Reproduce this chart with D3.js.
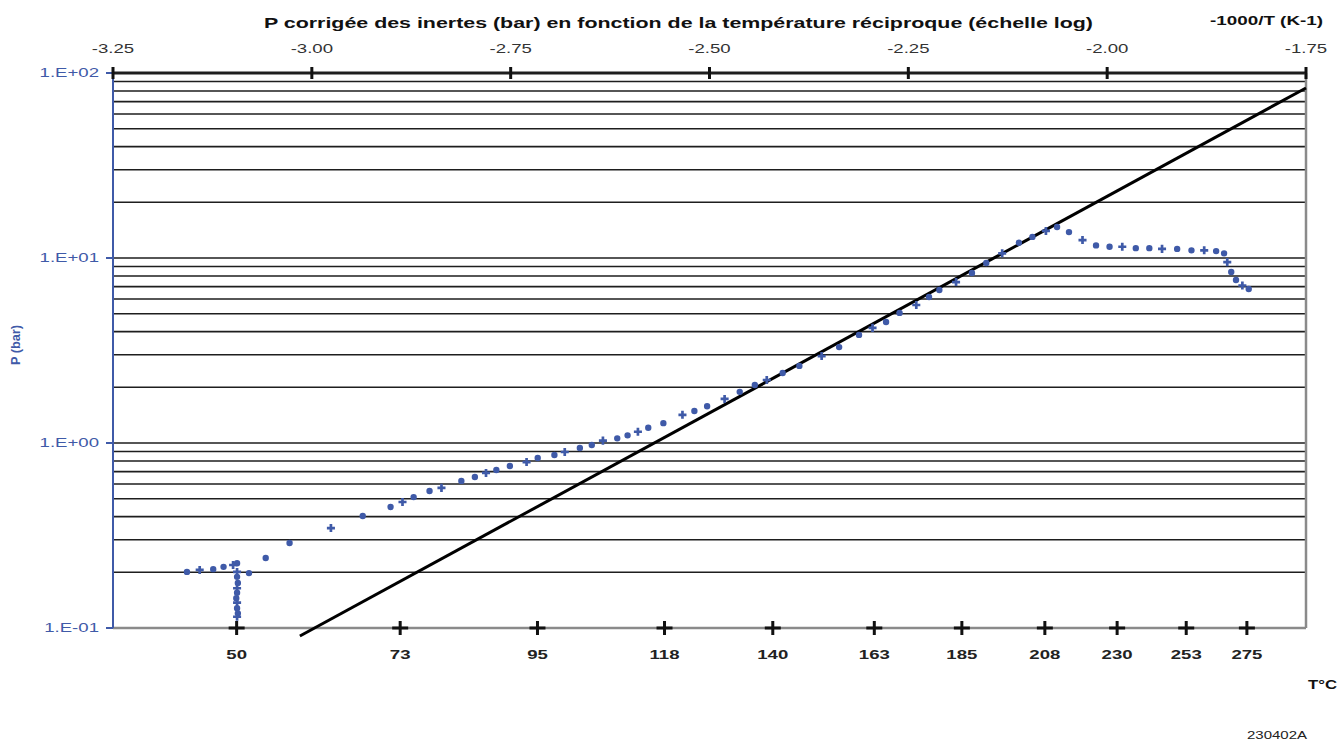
<!DOCTYPE html>
<html>
<head>
<meta charset="utf-8">
<script src="https://cdn.jsdelivr.net/npm/d3@7"></script>
<style>
  body { margin: 0; background: #fff; }
  text { font-family: "Liberation Sans", Arial, sans-serif; }
</style>
</head>
<body>
<svg width="1340" height="740"></svg>
<script>
// top axis: -1000/T (K-1)
const invTTicks = [-3.25, -3.00, -2.75, -2.50, -2.25, -2.00, -1.75];
// bottom axis: temperatures in °C placed on the same reciprocal scale
const tempTicks = [50, 73, 95, 118, 140, 163, 185, 208, 230, 253, 275];
// log axis
const pTicks = [0.1, 1, 10, 100];
const pTickLabels = ["1.E-01", "1.E+00", "1.E+01", "1.E+02"];

// measured points: -1000/T and corrected pressure (bar)
const invT = [
  -3.157, -3.141, -3.124, -3.111, -3.099, -3.094, -3.079,
  -3.094, -3.094, -3.093, -3.094, -3.094, -3.095, -3.094, -3.094, -3.093, -3.094,
  -3.058, -3.028, -2.976, -2.936, -2.901, -2.886, -2.872, -2.852, -2.837,
  -2.812, -2.795, -2.781, -2.768, -2.751, -2.730, -2.716, -2.695, -2.682,
  -2.663, -2.648, -2.634, -2.616, -2.603, -2.590, -2.577, -2.558, -2.534,
  -2.519, -2.503, -2.481, -2.462, -2.443, -2.428, -2.408, -2.387, -2.359,
  -2.337, -2.312, -2.295, -2.278, -2.261, -2.240, -2.224, -2.211, -2.190,
  -2.170, -2.152, -2.132, -2.111, -2.094, -2.077, -2.063, -2.048, -2.031,
  -2.014, -1.997, -1.981, -1.964, -1.947, -1.931, -1.912, -1.894, -1.878,
  -1.863, -1.853, -1.849, -1.844, -1.838, -1.830, -1.822
];
const pBar = [
  0.201, 0.206, 0.208, 0.214, 0.219, 0.224, 0.198,
  0.201, 0.189, 0.175, 0.164, 0.155, 0.145, 0.137, 0.128, 0.120, 0.115,
  0.239, 0.288, 0.347, 0.403, 0.451, 0.480, 0.510, 0.550, 0.572,
  0.624, 0.655, 0.689, 0.715, 0.751, 0.789, 0.830, 0.861, 0.894,
  0.940, 0.975, 1.03, 1.06, 1.10, 1.15, 1.21, 1.28, 1.42,
  1.49, 1.58, 1.73, 1.89, 2.06, 2.19, 2.39, 2.61, 2.95,
  3.30, 3.84, 4.19, 4.51, 5.05, 5.57, 6.15, 6.71, 7.41,
  8.30, 9.40, 10.6, 12.1, 13.0, 14.0, 14.7, 13.8, 12.5,
  11.7, 11.5, 11.5, 11.3, 11.3, 11.2, 11.2, 11.0, 11.0,
  10.9, 10.6, 9.5, 8.4, 7.6, 7.1, 6.8
];

// fitted straight line (log P vs -1000/T)
const fitInvT = [-3.015, -1.75];
const fitP = [0.0905, 83];

const svg = d3.select("svg");

const x = d3.scaleLinear().domain([-3.25, -1.75]).range([113, 1306]);
const y = d3.scaleLog().domain([0.1, 100]).range([628, 73]);

const blue = "#3f5aa8";
const stretch = 1.55; // the original lettering is wide

// horizontal grid: 1..9 in each decade
const gridVals = [];
[0.1, 1, 10].forEach(d => { for (let k = 1; k <= 9; k++) gridVals.push(+(d * k).toPrecision(3)); });
gridVals.push(100);

svg.append("g")
  .selectAll("line")
  .data(gridVals.filter(v => v > 0.1))
  .join("line")
    .attr("x1", x(-3.25))
    .attr("x2", x(-1.75))
    .attr("y1", d => y(d))
    .attr("y2", d => y(d))
    .attr("stroke", "#1e1e1e")
    .attr("stroke-width", d => d === 100 ? 3 : 1.6);

// frame: right and bottom in grey
svg.append("line")
  .attr("x1", x(-1.75)).attr("x2", x(-1.75))
  .attr("y1", y(100)).attr("y2", y(0.1))
  .attr("stroke", "#8a8a8a").attr("stroke-width", 2.5);
svg.append("line")
  .attr("x1", x(-3.25)).attr("x2", x(-1.75))
  .attr("y1", y(0.1)).attr("y2", y(0.1))
  .attr("stroke", "#8a8a8a").attr("stroke-width", 2.5);

// left axis (blue)
svg.append("line")
  .attr("x1", x(-3.25)).attr("x2", x(-3.25))
  .attr("y1", y(100)).attr("y2", y(0.1))
  .attr("stroke", blue).attr("stroke-width", 2);

const leftAxis = svg.append("g");
leftAxis.selectAll("line")
  .data(pTicks)
  .join("line")
    .attr("x1", x(-3.25) - 7).attr("x2", x(-3.25))
    .attr("y1", d => y(d)).attr("y2", d => y(d))
    .attr("stroke", blue).attr("stroke-width", 2);
leftAxis.selectAll("text")
  .data(pTicks)
  .join("text")
    .attr("transform", d => `translate(${x(-3.25) - 14},${y(d) + 4}) scale(${stretch},1)`)
    .attr("text-anchor", "end")
    .attr("fill", blue)
    .attr("font-size", 12)
    .text((d, i) => pTickLabels[i]);

svg.append("text")
  .attr("transform", `translate(20,345) rotate(-90)`)
  .attr("text-anchor", "middle")
  .attr("fill", blue)
  .attr("font-size", 12)
  .attr("font-weight", "bold")
  .attr("textLength", 40)
  .attr("lengthAdjust", "spacingAndGlyphs")
  .text("P (bar)");

// top axis ticks and labels
const topAxis = svg.append("g");
topAxis.selectAll("line")
  .data(invTTicks)
  .join("line")
    .attr("x1", d => x(d)).attr("x2", d => x(d))
    .attr("y1", y(100) - 6).attr("y2", y(100) + 6)
    .attr("stroke", "#111").attr("stroke-width", 3);
topAxis.selectAll("text")
  .data(invTTicks)
  .join("text")
    .attr("transform", d => `translate(${x(d)},53) scale(${stretch},1)`)
    .attr("text-anchor", "middle")
    .attr("fill", "#333")
    .attr("font-size", 12)
    .text(d => d3.format(".2f")(d).replace("−", "-"));

// bottom temperature ticks: "+" marks
const tx = t => x(-1000 / (t + 273.15));
const bottomAxis = svg.append("g");
bottomAxis.selectAll("path")
  .data(tempTicks)
  .join("path")
    .attr("d", t => `M${tx(t) - 8},${y(0.1)}H${tx(t) + 8}M${tx(t)},${y(0.1) - 7}V${y(0.1) + 7}`)
    .attr("stroke", "#111").attr("stroke-width", 3);
bottomAxis.selectAll("text")
  .data(tempTicks)
  .join("text")
    .attr("transform", t => `translate(${tx(t)},659) scale(${stretch},1)`)
    .attr("text-anchor", "middle")
    .attr("fill", "#222")
    .attr("font-size", 12)
    .attr("font-weight", "bold")
    .text(t => t);

// fitted line
svg.append("path")
  .datum(d3.zip(fitInvT, fitP))
  .attr("fill", "none")
  .attr("stroke", "#000")
  .attr("stroke-width", 3)
  .attr("d", d3.line().x(d => x(d[0])).y(d => y(d[1])));

// measurements
svg.append("g")
  .selectAll("path")
  .data(d3.zip(invT, pBar))
  .join("path")
    .attr("transform", d => `translate(${x(d[0])},${y(d[1])})`)
    .attr("d", (d, i) => d3.symbol().type(i % 3 === 1 ? d3.symbolCross : d3.symbolCircle).size(i % 3 === 1 ? 36 : 32)())
    .attr("fill", blue);

// titles
svg.append("text")
  .attr("x", 264).attr("y", 28)
  .attr("font-size", 15)
  .attr("font-weight", "bold")
  .attr("fill", "#111")
  .attr("textLength", 829)
  .attr("lengthAdjust", "spacingAndGlyphs")
  .text("P corrigée des inertes (bar) en fonction de la température réciproque (échelle log)");

svg.append("text")
  .attr("x", 1210).attr("y", 25)
  .attr("font-size", 12)
  .attr("font-weight", "bold")
  .attr("fill", "#111")
  .attr("textLength", 113)
  .attr("lengthAdjust", "spacingAndGlyphs")
  .text("-1000/T (K-1)");

svg.append("text")
  .attr("x", 1308).attr("y", 689)
  .attr("font-size", 13)
  .attr("font-weight", "bold")
  .attr("fill", "#111")
  .attr("textLength", 29)
  .attr("lengthAdjust", "spacingAndGlyphs")
  .text("T°C");

svg.append("text")
  .attr("x", 1247).attr("y", 739)
  .attr("font-size", 11)
  .attr("fill", "#222")
  .attr("textLength", 60)
  .attr("lengthAdjust", "spacingAndGlyphs")
  .text("230402A");
</script>
</body>
</html>
